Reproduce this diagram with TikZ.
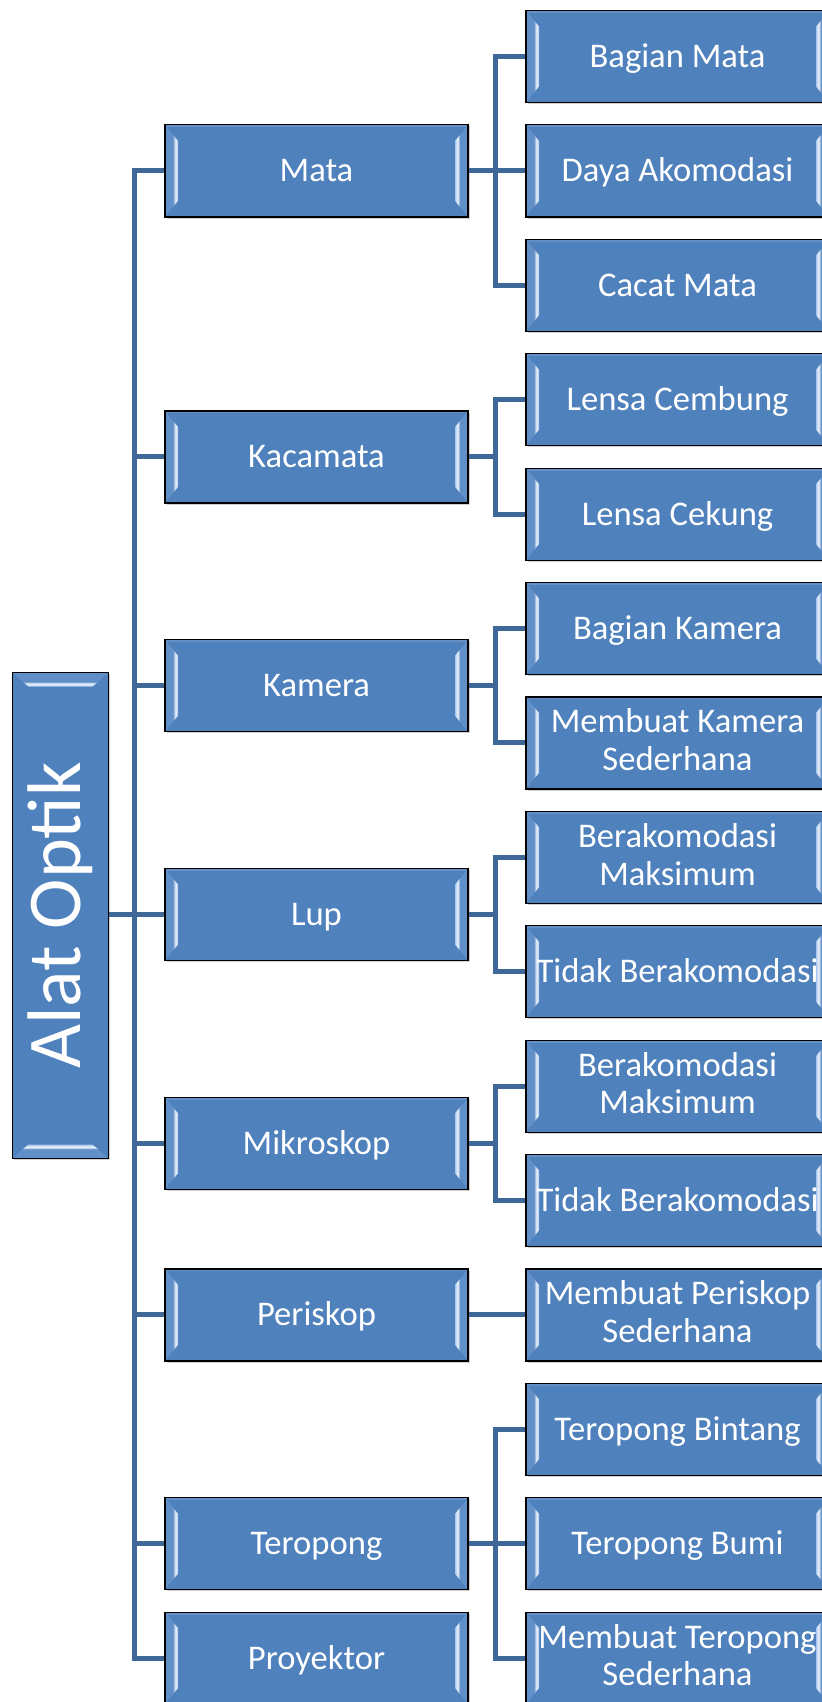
\documentclass[tikz,border=0pt]{standalone}
\usepackage{fontspec}
\setmainfont{Carlito}
\usetikzlibrary{calc,shadows}
\definecolor{boxblue}{HTML}{4F81BD}
\definecolor{linkblue}{HTML}{3F6898}
\definecolor{bevlight}{HTML}{A9C8EE}
\definecolor{bevmid}{HTML}{6F98CC}
% single-line and two-line label helpers (fix baseline positions)
\newcommand{\one}[1]{\rule{0pt}{15.5pt}#1\rule[-4.5pt]{0pt}{4.5pt}}
\newcommand{\two}[2]{\rule{0pt}{13.4pt}#1\\#2\rule[-4.5pt]{0pt}{4.5pt}}
\tikzset{
  hbevel/.style={path picture={
    \path (path picture bounding box.north west) coordinate (bnw)
          (path picture bounding box.south west) coordinate (bsw)
          (path picture bounding box.north east) coordinate (bne)
          (path picture bounding box.south east) coordinate (bse);
    \fill[boxblue!80!bevlight] (bnw) -- ($(bnw)+(4pt,-5pt)$) -- ($(bsw)+(4pt,5pt)$) -- (bsw) -- cycle;
    \fill[boxblue!80!bevlight] (bne) -- ($(bne)+(-4pt,-5pt)$) -- ($(bse)+(-4pt,5pt)$) -- (bse) -- cycle;
    \shade[left color=bevmid, right color=bevlight, middle color=white!75!bevlight]
      ($(bnw)+(4pt,-5pt)$) -- ($(bnw)+(6.5pt,-8pt)$) -- ($(bsw)+(6.5pt,8pt)$) -- ($(bsw)+(4pt,5pt)$) -- cycle;
    \shade[left color=bevlight, right color=bevmid, middle color=white!75!bevlight]
      ($(bne)+(-4pt,-5pt)$) -- ($(bne)+(-6.5pt,-8pt)$) -- ($(bse)+(-6.5pt,8pt)$) -- ($(bse)+(-4pt,5pt)$) -- cycle;
    \fill[boxblue!88!white] (bnw) rectangle ($(bne)+(0,-1.2pt)$);
  }},
  vbevel/.style={path picture={
    \path (path picture bounding box.north west) coordinate (bnw)
          (path picture bounding box.south west) coordinate (bsw)
          (path picture bounding box.north east) coordinate (bne)
          (path picture bounding box.south east) coordinate (bse);
    \fill[boxblue!80!bevlight] (bnw) -- ($(bnw)+(5pt,-4.5pt)$) -- ($(bne)+(-5pt,-4.5pt)$) -- (bne) -- cycle;
    \fill[boxblue!80!bevlight] (bsw) -- ($(bsw)+(5pt,4.5pt)$) -- ($(bse)+(-5pt,4.5pt)$) -- (bse) -- cycle;
    \shade[top color=bevmid, bottom color=bevlight, middle color=white!75!bevlight]
      ($(bnw)+(5pt,-4.5pt)$) -- ($(bne)+(-5pt,-4.5pt)$) -- ($(bne)+(-8pt,-7pt)$) -- ($(bnw)+(8pt,-7pt)$) -- cycle;
    \shade[top color=bevlight, bottom color=bevmid, middle color=white!75!bevlight]
      ($(bsw)+(5pt,4.5pt)$) -- ($(bse)+(-5pt,4.5pt)$) -- ($(bse)+(-8pt,7pt)$) -- ($(bsw)+(8pt,7pt)$) -- cycle;
  }},
  basebox/.style={draw=black, line width=0.6pt, fill=boxblue, text=white,
    inner sep=0pt, align=center,
    drop shadow={shadow xshift=0.8pt, shadow yshift=-0.8pt, opacity=0.35}},
  box/.style={basebox, hbevel, minimum width=151.5pt, minimum height=46pt,
    font=\fontsize{17.3}{18.9}\selectfont},
  rootbox/.style={basebox, vbevel, minimum width=48pt, minimum height=243pt,
    font=\fontsize{38}{40}\selectfont},
  link/.style={draw=linkblue, line width=2.5pt, line join=miter},
}
\begin{document}
\begin{tikzpicture}[x=0.5pt, y=-0.5pt]
\useasboundingbox (0,0) rectangle (822,1702);
\fill[white] (0,0) rectangle (822,1702);
\coordinate (T) at (134.6,0);
\coordinate (U) at (495,0);

% level 2 nodes
\node[box] (c0) at (677.5,56.5) {\one{Bagian Mata}};
\node[box] (c1) at (677.5,170.9) {\one{Daya Akomodasi}};
\node[box] (c2) at (677.5,285.3) {\one{Cacat Mata}};
\node[box] (c3) at (677.5,399.7) {\one{Lensa Cembung}};
\node[box] (c4) at (677.5,514.1) {\one{Lensa Cekung}};
\node[box] (c5) at (677.5,628.5) {\one{Bagian Kamera}};
\node[box] (c6) at (677.5,742.9) {\two{Membuat Kamera}{Sederhana}};
\node[box] (c7) at (677.5,857.3) {\two{Berakomodasi}{Maksimum}};
\node[box] (c8) at (677.5,971.7) {\one{Tidak Berakomodasi}};
\node[box] (c9) at (677.5,1086.1) {\two{Berakomodasi}{Maksimum}};
\node[box] (c10) at (677.5,1200.5) {\one{Tidak Berakomodasi}};
\node[box] (c11) at (677.5,1314.9) {\two{Membuat Periskop}{Sederhana}};
\node[box] (c12) at (677.5,1429.3) {\one{Teropong Bintang}};
\node[box] (c13) at (677.5,1543.7) {\one{Teropong Bumi}};
\node[box] (c14) at (677.5,1658.1) {\two{Membuat Teropong}{Sederhana}};

% level 1 nodes
\node[box] (mata) at (316.5,170.9) {\one{Mata}};
\node[box] (kaca) at (316.5,456.9) {\one{Kacamata}};
\node[box] (kam) at (316.5,685.7) {\one{Kamera}};
\node[box] (lup) at (316.5,914.5) {\one{Lup}};
\node[box] (mik) at (316.5,1143.3) {\one{Mikroskop}};
\node[box] (peri) at (316.5,1314.9) {\one{Periskop}};
\node[box] (tero) at (316.5,1543.7) {\one{Teropong}};
\node[box] (proy) at (316.5,1658.1) {\one{Proyektor}};

% root
\node[rootbox] (root) at (60.5,915.5) {\rotatebox{90}{Alat Optik}};

% root connectors
\foreach \n in {mata,kaca,kam,lup,mik,peri,tero,proy}
  \draw[link] (root.east |- lup.west) -- (T |- lup.west) |- (\n.west);

% level-2 connectors
\foreach \p/\c in {mata/c0,mata/c1,mata/c2,kaca/c3,kaca/c4,kam/c5,kam/c6,lup/c7,lup/c8,mik/c9,mik/c10,peri/c11,tero/c12,tero/c13,tero/c14}
  \draw[link] (\p.east) -- (\p.east -| U) |- (\c.west);
\end{tikzpicture}
\end{document}
